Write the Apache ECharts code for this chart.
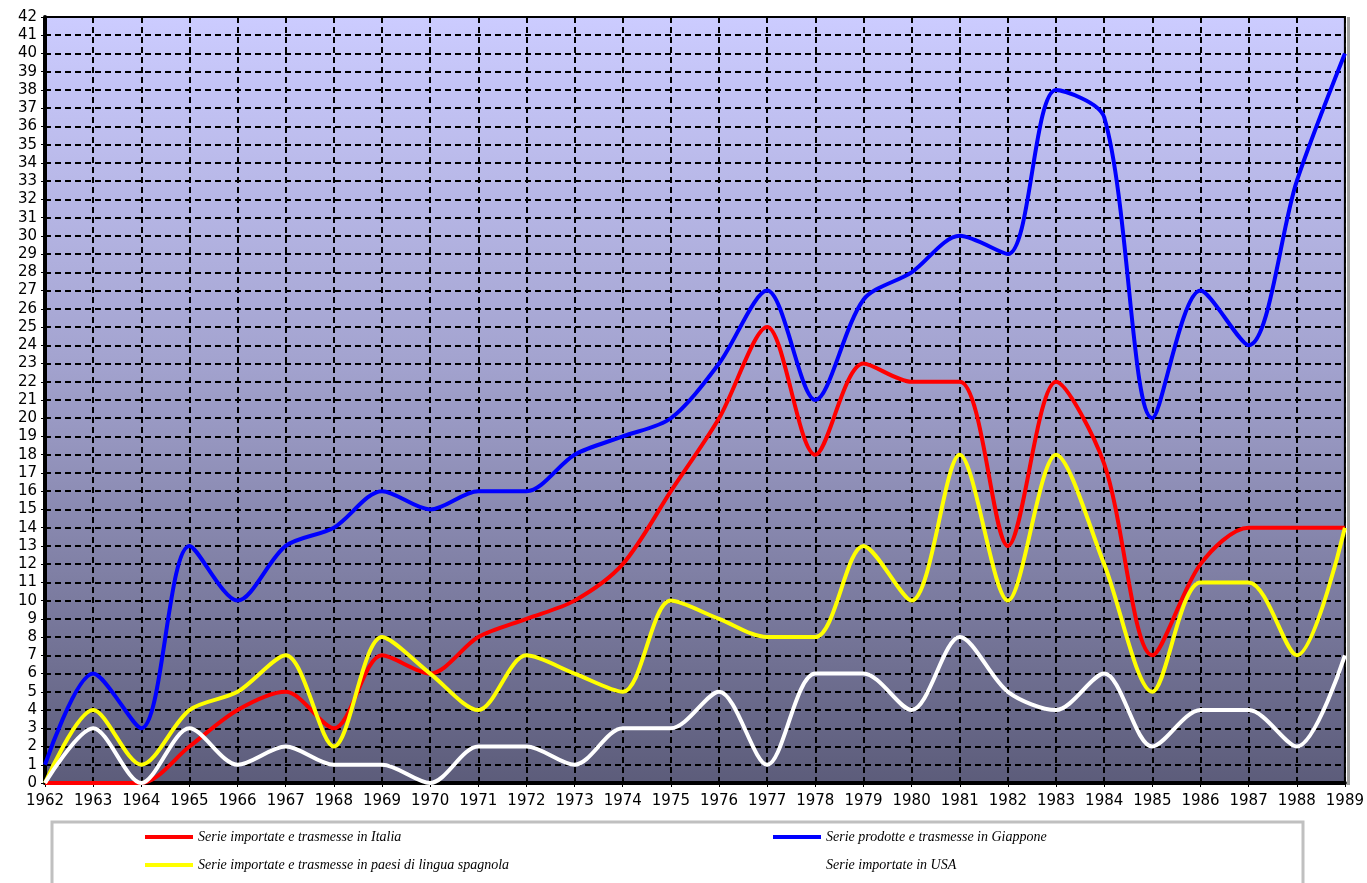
<!DOCTYPE html>
<html>
<head>
<meta charset="utf-8">
<script src="https://cdn.jsdelivr.net/npm/echarts@6/dist/echarts.min.js"></script>
<style>
  html, body { margin: 0; padding: 0; background: #ffffff; }
  #chart { width: 1367px; height: 883px; }
</style>
</head>
<body>
<div id="chart"></div>
<script>
// ---- data ----
const years = ['1962','1963','1964','1965','1966','1967','1968','1969','1970','1971','1972','1973','1974','1975',
               '1976','1977','1978','1979','1980','1981','1982','1983','1984','1985','1986','1987','1988','1989'];

const italia    = [0, 0, 0, 2, 4, 5, 3, 7, 6, 8, 9, 10, 12, 16, 20, 25, 18, 23, 22, 22, 13, 22, 17.5, 7, 12, 14, 14, 14];
const giappone  = [1, 6, 3, 13, 10, 13, 14, 16, 15, 16, 16, 18, 19, 20, 23, 27, 21, 26.5, 28, 30, 29, 38, 36.5, 20, 27, 24, 33, 40];
const spagnola  = [0, 4, 1, 4, 5, 7, 2, 8, 6, 4, 7, 6, 5, 10, 9, 8, 8, 13, 10, 18, 10, 18, 12, 5, 11, 11, 7, 14];
const usa       = [0, 3, 0, 3, 1, 2, 1, 1, 0, 2, 2, 1, 3, 3, 5, 1, 6, 6, 4, 8, 5, 4, 6, 2, 4, 4, 2, 7];

const seriesNames = [
  'Serie importate e trasmesse in Italia',
  'Serie prodotte e trasmesse in Giappone',
  'Serie importate e trasmesse in paesi di lingua spagnola',
  'Serie importate in USA'
];
const seriesColors = ['#ff0000', '#0000ff', '#ffff00', '#ffffff'];
const seriesData = [italia, giappone, spagnola, usa];

const yMin = 0, yMax = 42, yStep = 1;

// ---- chart ----
const chart = echarts.init(document.getElementById('chart'), null, { renderer: 'canvas' });

const dash = { color: '#000000', width: 2, type: [6, 4] };
const legendText = { fontFamily: 'Liberation Serif', fontStyle: 'italic', fontSize: 14, color: '#000000' };

function legendAt(name, left, top) {
  return {
    data: [name], left: left, top: top, padding: 0,
    icon: 'rect', itemWidth: 48, itemHeight: 4, itemGap: 0,
    textStyle: legendText, selectedMode: false
  };
}

const option = {
  animation: false,
  backgroundColor: '#ffffff',
  grid: {
    left: 45, top: 17, width: 1302, height: 766,
    show: true,
    borderColor: '#000000', borderWidth: 2,
    backgroundColor: {
      type: 'linear', x: 0, y: 0, x2: 0, y2: 1,
      colorStops: [
        { offset: 0, color: '#ccccff' },
        { offset: 0.45, color: '#a3a3cf' },
        { offset: 1, color: '#5c5c7a' }
      ]
    }
  },
  graphic: [
    { type: 'rect', z: -1, shape: { x: 52, y: 822, width: 1251, height: 80 },
      style: { fill: '#ffffff', stroke: '#c0c0c0', lineWidth: 3 } },
    { type: 'rect', z: -2, shape: { x: 1347, y: 17, width: 3, height: 768 },
      style: { fill: '#a0a0a0' } }
  ],
  legend: [
    legendAt(seriesNames[0], 145, 830),
    legendAt(seriesNames[1], 773, 830),
    legendAt(seriesNames[2], 145, 858),
    legendAt(seriesNames[3], 773, 858)
  ],
  xAxis: {
    type: 'category',
    data: years,
    boundaryGap: false,
    axisLine: { show: true, lineStyle: { color: '#000000', width: 4 } },
    axisTick: { show: true, alignWithLabel: true, length: 4, lineStyle: { color: '#000000', width: 1 } },
    axisLabel: { interval: 0, margin: 11, fontFamily: 'DejaVu Sans', fontSize: 15, color: '#000000' },
    splitLine: { show: true, interval: 0, lineStyle: dash }
  },
  yAxis: {
    type: 'value',
    min: yMin, max: yMax, interval: yStep,
    axisLine: { show: true, lineStyle: { color: '#000000', width: 4 } },
    axisTick: { show: true, length: 4, lineStyle: { color: '#000000', width: 1 } },
    axisLabel: { margin: 8, fontFamily: 'DejaVu Sans', fontSize: 15, color: '#000000' },
    splitLine: { show: true, lineStyle: dash }
  },
  series: seriesNames.map((name, i) => ({
    name: name,
    type: 'line',
    data: seriesData[i],
    smooth: 0.3,
    showSymbol: false,
    symbol: 'none',
    clip: false,
    color: seriesColors[i],
    lineStyle: { color: seriesColors[i], width: 4 },
    emphasis: { disabled: true },
    z: 3 + i
  }))
};

chart.setOption(option);
</script>
</body>
</html>
